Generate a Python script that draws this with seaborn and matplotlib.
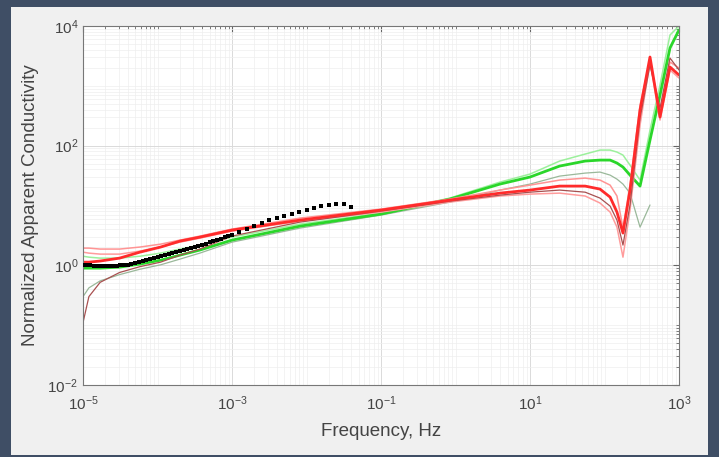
import numpy as np
import pandas as pd
import seaborn as sns
import matplotlib.pyplot as plt
from matplotlib.ticker import LogLocator, NullFormatter
from matplotlib.patches import Rectangle

# shared frequency grid for the model curves (Hz)
freq = [1.0e-5, 1.2e-5, 1.7e-5, 3.1e-5, 5.8e-5, 1.1e-4, 2.0e-4, 3.7e-4, 1.0e-3,
        8.2e-3, 0.1, 0.84, 3.95, 10, 25, 55, 87, 119, 147, 177, 220, 300,
        408, 556, 757, 1000]

red_main = [1.13, 1.13, 1.18, 1.32, 1.66, 2.02, 2.54, 2.96, 3.88, 5.70, 8.38, 12.3,
            16.1, 18.1, 21.1, 21.1, 18.8, 13.8, 7.76, 3.46, 18.1, 394, 3030, 301,
            2063, 1516]
red_upper = [1.94, 1.94, 1.87, 1.87, 2.02, 2.26, 2.64, 3.08, 4.03, 6.16, 8.71, 12.8,
             18.1, 21.9, 26.6, 28.7, 26.6, 21.9, 14.4, 4.19, 21.9, 477, 2700, 365,
             2500, 1985]
red_lower = [1.66, 1.60, 1.54, 1.54, 1.73, 2.02, 2.44, 2.85, 3.73, 5.48, 7.76, 11.4,
             14.4, 15.5, 16.1, 14.4, 11.0, 7.76, 4.35, 1.37, 8.38, 221, 2500, 268,
             1838, 1350]
red_dark = [0.11, 0.30, 0.52, 0.76, 0.95, 1.13, 1.48, 1.87, 3.08, 5.28, 8.06, 11.8,
            14.9, 16.7, 18.1, 16.7, 13.3, 9.77, 5.70, 2.18, 10.2, 289, 2228, 425,
            2917, 1838]
green_main = [0.898, 0.898, 0.898, 0.933, 1.05, 1.22, 1.48, 1.80, 2.64, 4.52, 7.18, 12.8,
              22.8, 29.9, 45.6, 55.3, 57.4, 57.4, 51.2, 43.9, 32.2, 21.1, 124, 702,
              4290, 8570]
green_upper = [1.42, 1.37, 1.32, 1.32, 1.42, 1.60, 1.87, 2.18, 2.96, 4.89, 7.46, 13.3,
               24.6, 33.5, 55.3, 72.4, 84.4, 84.4, 78.2, 69.6, 47.4, 26.6, 182, 1031,
               7070, 10000]
green_lower = [0.30, 0.42, 0.55, 0.70, 0.86, 1.02, 1.27, 1.60, 2.44, 4.19, 6.91, 11.4,
               18.1, 22.8, 31.0, 34.8, 36.2, 32.2, 27.6, 22.8, 16.1, 4.35, 10.2, np.nan,
               np.nan, np.nan]

# measured data (black dots)
obs_freq = [1.0e-5, 1.12e-5, 1.26e-5, 1.41e-5, 1.58e-5, 1.78e-5, 2.0e-5, 2.24e-5, 2.51e-5,
            2.82e-5, 3.16e-5, 3.55e-5, 3.98e-5, 4.47e-5, 5.01e-5, 5.62e-5, 6.31e-5, 7.08e-5,
            7.94e-5, 8.91e-5, 1.0e-4, 1.12e-4, 1.26e-4, 1.41e-4, 1.58e-4, 1.78e-4, 2.0e-4,
            2.24e-4, 2.51e-4, 2.82e-4, 3.16e-4, 3.55e-4, 3.98e-4, 4.47e-4, 5.01e-4, 5.62e-4,
            6.31e-4, 7.08e-4, 7.94e-4, 8.91e-4, 1.0e-3, 1.26e-3, 1.58e-3, 2.0e-3, 2.51e-3,
            3.16e-3, 3.98e-3, 5.01e-3, 6.31e-3, 7.94e-3, 1.0e-2, 1.26e-2, 1.58e-2, 2.0e-2,
            2.51e-2, 3.16e-2, 3.98e-2]
obs_sigma = [1.01, 1.01, 1.01, 0.99, 0.97, 0.97, 0.97, 0.97, 0.97, 0.99, 1.01, 1.01, 1.01,
             1.05, 1.09, 1.13, 1.18, 1.22, 1.27, 1.32, 1.37, 1.42, 1.48, 1.54, 1.60, 1.66,
             1.73, 1.80, 1.87, 1.94, 2.02, 2.10, 2.18, 2.30, 2.44, 2.54, 2.64, 2.80, 2.96,
             3.08, 3.20, 3.59, 4.03, 4.52, 5.08, 5.70, 6.16, 6.65, 7.18, 7.76, 8.38, 9.05,
             9.77, 10.2, 10.6, 10.6, 9.40]

xticks = [1e-5, 1e-3, 1e-1, 1e1, 1e3]
yticks = [1e-2, 1e0, 1e2, 1e4]

sns.set_style("white")
plt.rcParams['font.family'] = ['Liberation Sans', 'DejaVu Sans']

fig = plt.figure(figsize=(7.19, 4.57), dpi=100)
fig.patch.set_facecolor('#3f4e65')
panel = Rectangle((11 / 719, 2 / 457), 697 / 719, 448 / 457,
                  transform=fig.transFigure, facecolor='#f0f0f0',
                  edgecolor='none', zorder=-10)
fig.patches.append(panel)
ax = fig.add_axes([83 / 719, 1 - 385 / 457, 596 / 719, 359 / 457])
ax.set_zorder(1)
ax.set_facecolor('white')

curves = [
    (green_lower, '#9ab89a', 0.9),
    (green_upper, '#9cf09c', 1.1),
    (green_main, '#2ad62a', 2.0),
    (red_lower, '#ff9c9c', 1.1),
    (red_upper, '#ff9494', 1.1),
    (red_dark, '#a85050', 0.9),
    (red_main, '#ff2b2b', 2.0),
]
for vals, col, lw in curves:
    df = pd.DataFrame({'f': freq, 's': vals}).dropna()
    sns.lineplot(data=df, x='f', y='s', color=col, lw=lw, estimator=None,
                 sort=False, ax=ax)

sns.scatterplot(x=obs_freq, y=obs_sigma, marker='s', s=6, color='black',
                linewidth=0, ax=ax, zorder=5)

ax.set_xscale('log')
ax.set_yscale('log')
ax.set_xlim(1e-5, 1e3)
ax.set_ylim(1e-2, 1e4)
ax.set_xticks(xticks)
ax.set_yticks(yticks)
ax.xaxis.set_minor_locator(LogLocator(base=10, subs=np.arange(1, 10), numticks=100))
ax.yaxis.set_minor_locator(LogLocator(base=10, subs=np.arange(1, 10), numticks=100))
ax.xaxis.set_minor_formatter(NullFormatter())
ax.yaxis.set_minor_formatter(NullFormatter())

ax.grid(True, which='major', color='#dadada', lw=0.7)
ax.grid(True, which='minor', color='#eeeeee', lw=0.5)
ax.set_axisbelow(True)
ax.tick_params(which='both', direction='in', top=True, right=True,
               colors='#666666', labelcolor='#444444', labelsize=11)
ax.tick_params(axis='x', which='major', pad=7)
ax.tick_params(which='major', length=4)
ax.tick_params(which='minor', length=2)
for sp in ax.spines.values():
    sp.set_color('#777777')
    sp.set_linewidth(0.8)

ax.set_xlabel('Frequency, Hz', fontsize=13.5, color='#444444', labelpad=7)
ax.set_ylabel('Normalized Apparent Conductivity', fontsize=13.5, color='#444444',
              labelpad=6)

fig.savefig('out.png', dpi=100, facecolor=fig.get_facecolor())
